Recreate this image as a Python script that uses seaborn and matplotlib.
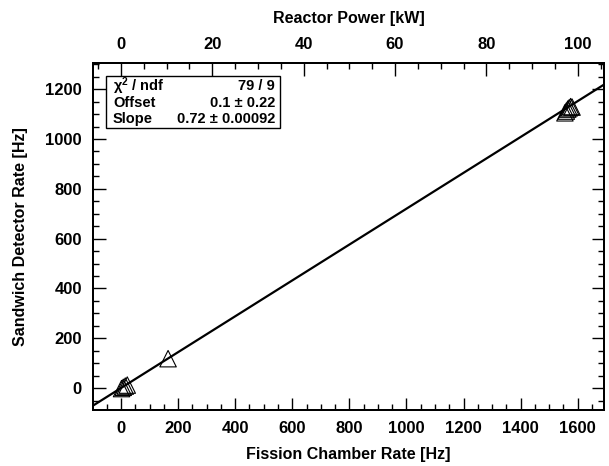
import numpy as np
import pandas as pd
import matplotlib
matplotlib.use("Agg")
import matplotlib.pyplot as plt
from matplotlib.patches import Rectangle
from matplotlib.ticker import MultipleLocator
import seaborn as sns

# Data
fission_rate = [2, 8, 15, 22, 165, 1555, 1560, 1565, 1570, 1575, 1580]
sandwich_rate = [-2, 3, 8, 12, 118, 1105, 1112, 1120, 1125, 1130, 1128]
fit_offset = 0.1
fit_offset_err = 0.22
fit_slope = 0.72
fit_slope_err = 0.00092
chi2_label = "79 / 9"
hz_per_kw = 16.0

sns.set_style("ticks")
plt.rcParams['font.family'] = ['Liberation Sans', 'DejaVu Sans']
plt.rcParams['font.weight'] = 'bold'
plt.rcParams['mathtext.fontset'] = 'custom'
plt.rcParams['mathtext.rm'] = 'Liberation Sans:bold'
plt.rcParams['mathtext.default'] = 'rm'
for k in ['text.color', 'axes.labelcolor', 'xtick.color', 'ytick.color', 'axes.edgecolor']:
    plt.rcParams[k] = 'black'

fig = plt.figure(figsize=(6.09, 4.66), dpi=100)
ax = fig.add_axes([0.1527, 0.1202, 0.8391, 0.7446])

df = pd.DataFrame({"x": fission_rate, "y": sandwich_rate})
xlim = (-98, 1692)
ylim = (-88, 1305)

xs = np.array(xlim, dtype=float)
sns.lineplot(x=xs, y=fit_offset + fit_slope * xs, ax=ax, color="black", linewidth=1.6)
sns.scatterplot(data=df, x="x", y="y", ax=ax, marker="^", s=140,
                facecolor="none", edgecolor="black", linewidth=0.8, zorder=3)

ax.set_xlim(*xlim)
ax.set_ylim(*ylim)

for s in ax.spines.values():
    s.set_linewidth(1.4)
    s.set_color("black")

ax.xaxis.set_major_locator(MultipleLocator(200))
ax.xaxis.set_minor_locator(MultipleLocator(50))
ax.yaxis.set_major_locator(MultipleLocator(200))
ax.yaxis.set_minor_locator(MultipleLocator(50))
ax.tick_params(which="both", direction="in", width=1.0, labelsize=12)
ax.tick_params(axis="y", which="both", left=True, right=True)
ax.tick_params(axis="x", which="both", bottom=True, top=False)
ax.tick_params(which="major", length=9)
ax.tick_params(which="minor", length=4.5)
ax.tick_params(axis="x", which="major", pad=8)
ax.tick_params(axis="y", which="major", pad=8)
for lab in ax.get_xticklabels() + ax.get_yticklabels():
    lab.set_fontweight("bold")

ax.set_xlabel("Fission Chamber Rate [Hz]", fontsize=11.5, fontweight="bold", labelpad=8)
ax.set_ylabel("Sandwich Detector Rate [Hz]", fontsize=11.5, fontweight="bold", labelpad=12)

# Top axis: reactor power
ax2 = ax.twiny()
ax2.set_xlim(xlim[0] / hz_per_kw, xlim[1] / hz_per_kw)
ax2.xaxis.set_major_locator(MultipleLocator(20))
ax2.xaxis.set_minor_locator(MultipleLocator(5))
ax2.tick_params(which="both", direction="in", width=1.0, labelsize=12, bottom=False, top=True)
ax2.tick_params(which="major", length=9, pad=8)
ax2.tick_params(which="minor", length=4.5)
for s in ax2.spines.values():
    s.set_linewidth(1.4)
ax2.set_xlabel("Reactor Power [kW]", fontsize=11.5, fontweight="bold", labelpad=10)
for lab in ax2.get_xticklabels():
    lab.set_fontweight("bold")
ax2.grid(False)

# Stats box
ax.add_patch(Rectangle((0.0254, 0.813), 0.341, 0.1495, transform=ax.transAxes,
                       facecolor="white", edgecolor="black", linewidth=1.0, zorder=4))
rows = [
    ("\u03c7$^{2}$ / ndf", chi2_label),
    ("Offset", f"{fit_offset:g} \u00b1 {fit_offset_err:g}"),
    ("Slope", f"{fit_slope:g} \u00b1 {fit_slope_err:g}"),
]
row_y = [0.934, 0.886, 0.839]
for (lbl, val), yy in zip(rows, row_y):
    ax.text(0.039, yy, lbl, transform=ax.transAxes, fontsize=10.5, fontweight="bold",
            ha="left", va="center", zorder=5)
    ax.text(0.356, yy, val, transform=ax.transAxes, fontsize=10.5, fontweight="bold",
            ha="right", va="center", zorder=5)

fig.savefig("out.png", dpi=100)
